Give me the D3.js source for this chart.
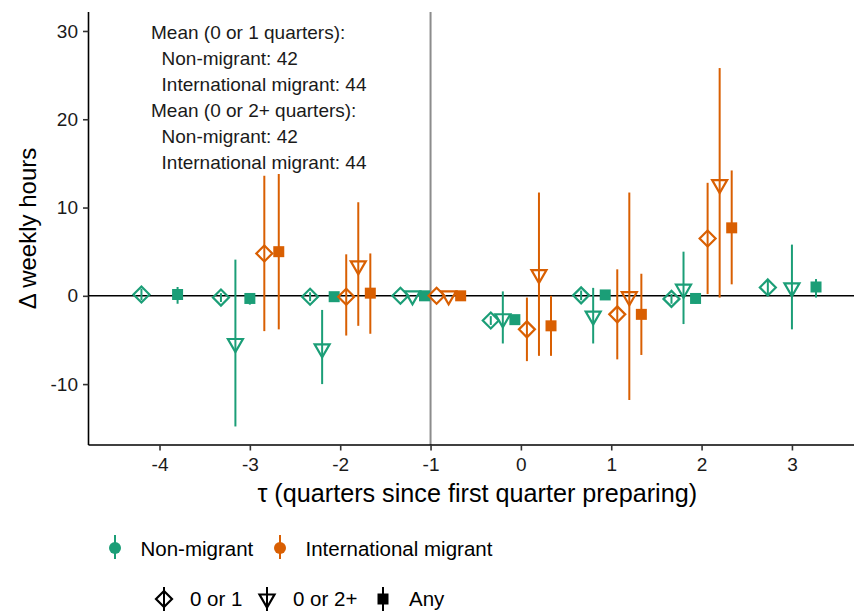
<!DOCTYPE html>
<html>
<head>
<meta charset="utf-8">
<script src="https://cdn.jsdelivr.net/npm/d3@7"></script>
<style>
  body { margin: 0; background: #fff; }
  svg { font-family: "Liberation Sans", Arial, sans-serif; display: block; }
</style>
</head>
<body>
<div id="chart"></div>
<script>
// quarters relative to first quarter preparing
const taus = [-4, -3, -2, -1, 0, 1, 2, 3];
const groups = ["Non-migrant", "International migrant"];
const types = ["0 or 1", "0 or 2+", "Any"];

// Non-migrant
const nm01Est = [0.15, -0.2, -0.1, 0, -2.8, 0.05, -0.35, 0.95];
const nm01Lo  = [-0.5, -0.7, -0.6, 0, -3.3, -0.5, -0.9, 0.1];
const nm01Hi  = [0.8, 0.3, 0.4, 0, -2.3, 0.6, 0.2, 1.8];
const nm02Est = [null, -5.4, -6.0, 0, -2.6, -2.3, 0.75, 0.9];
const nm02Lo  = [null, -14.8, -10.0, 0, -5.4, -5.4, -3.2, -3.8];
const nm02Hi  = [null, 4.1, -1.6, 0, 0.5, 0.9, 5.0, 5.8];
const nmAnyEst = [0.15, -0.3, -0.1, 0, -2.7, 0.1, -0.3, 1.0];
const nmAnyLo  = [-0.9, -1.0, -0.5, 0, -3.1, -0.3, -0.9, -0.2];
const nmAnyHi  = [1.0, 0.3, 0.3, 0, -2.3, 0.5, 0.3, 1.9];

// International migrant
const im01Est = [null, 4.8, -0.1, 0, -3.8, -2.1, 6.5, null];
const im01Lo  = [null, -4.0, -4.5, 0, -7.4, -7.2, 0.2, null];
const im01Hi  = [null, 13.6, 4.7, 0, -0.2, 3.0, 12.8, null];
const im02Est = [null, null, 3.4, 0, 2.4, -0.1, 12.6, null];
const im02Lo  = [null, null, -3.4, 0, -6.8, -11.8, -0.2, null];
const im02Hi  = [null, null, 10.6, 0, 11.7, 11.7, 25.8, null];
const imAnyEst = [null, 5.0, 0.3, 0, -3.4, -2.1, 7.7, null];
const imAnyLo  = [null, -3.8, -4.3, 0, -6.8, -6.7, 1.3, null];
const imAnyHi  = [null, 13.8, 4.8, 0, 0, 2.5, 14.2, null];

const yTicks = [-10, 0, 10, 20, 30];
const xTicks = [-4, -3, -2, -1, 0, 1, 2, 3];
const noteLines = [
  "Mean (0 or 1 quarters):",
  "  Non-migrant: 42",
  "  International migrant: 44",
  "Mean (0 or 2+ quarters):",
  "  Non-migrant: 42",
  "  International migrant: 44"
];

const colors = {"Non-migrant": "#1b9e77", "International migrant": "#d95f02"};

const series = [
  {group: groups[0], type: types[0], est: nm01Est, lo: nm01Lo, hi: nm01Hi},
  {group: groups[0], type: types[1], est: nm02Est, lo: nm02Lo, hi: nm02Hi},
  {group: groups[0], type: types[2], est: nmAnyEst, lo: nmAnyLo, hi: nmAnyHi},
  {group: groups[1], type: types[0], est: im01Est, lo: im01Lo, hi: im01Hi},
  {group: groups[1], type: types[1], est: im02Est, lo: im02Lo, hi: im02Hi},
  {group: groups[1], type: types[2], est: imAnyEst, lo: imAnyLo, hi: imAnyHi}
];

// flatten into rows
let rows = [];
series.forEach((s, si) => {
  taus.forEach((t, i) => {
    if (s.est[i] == null) return;
    rows.push({tau: t, key: si, group: s.group, type: s.type, est: s.est[i], lo: s.lo[i], hi: s.hi[i]});
  });
});

const width = 854, height = 612;
const m = {left: 88.5, right: 854, top: 12, bottom: 445};

const svg = d3.select("#chart").append("svg")
  .attr("width", width)
  .attr("height", height);

const x = d3.scaleLinear().domain([-4.786, 3.687]).range([m.left, m.right]);
const y = d3.scaleLinear().domain([-16.9, 32.15]).range([m.bottom, m.top]);

// dodge: spread the points present at each tau over 0.8
const byTau = d3.group(rows, d => d.tau);
byTau.forEach((arr, t) => {
  const band = d3.scaleBand().domain(arr.map(d => d.key)).range([t - 0.4, t + 0.4]);
  arr.forEach(d => { d.xd = band(d.key) + band.bandwidth() / 2; });
});

// reference lines
svg.append("line")
  .attr("x1", x(-1)).attr("x2", x(-1))
  .attr("y1", m.top).attr("y2", m.bottom)
  .attr("stroke", "#8c8c8c").attr("stroke-width", 2);
svg.append("line")
  .attr("x1", m.left).attr("x2", m.right)
  .attr("y1", y(0)).attr("y2", y(0))
  .attr("stroke", "#000").attr("stroke-width", 1.6);

// axes (hyphen minus like the original)
const fmt = d => String(d);
const yAxis = svg.append("g")
  .attr("transform", `translate(${m.left},0)`)
  .call(d3.axisLeft(y).tickValues(yTicks).tickFormat(fmt).tickSize(5.5).tickPadding(5));
const xAxis = svg.append("g")
  .attr("transform", `translate(0,${m.bottom})`)
  .call(d3.axisBottom(x).tickValues(xTicks).tickFormat(fmt).tickSize(5.5).tickPadding(7.5));
[xAxis, yAxis].forEach(a => {
  a.select(".domain").attr("stroke", "#000").attr("stroke-width", 1.6);
  a.selectAll(".tick line").attr("stroke", "#333").attr("stroke-width", 1.6);
  a.selectAll(".tick text").attr("fill", "#1a1a1a").style("font-size", "19px")
    .style("font-family", "'Liberation Sans', Arial, sans-serif");
});
yAxis.select(".domain").attr("d", `M0,${m.top}V${m.bottom}`);
xAxis.select(".domain").attr("d", `M${m.left},0H${m.right}`);

svg.append("text")
  .attr("transform", `translate(36,${(m.top + m.bottom) / 2}) rotate(-90)`)
  .attr("text-anchor", "middle")
  .style("font-size", "24px")
  .text("Δ weekly hours");
svg.append("text")
  .attr("x", (m.left + m.right) / 2 + 6).attr("y", 502)
  .attr("text-anchor", "middle")
  .style("font-size", "25.2px")
  .text("τ (quarters since first quarter preparing)");

// marker shapes
function shapePath(type) {
  if (type === "0 or 1") return "M0,-8L8,0L0,8L-8,0Z";
  if (type === "0 or 2+") return "M-7.5,-4.5L7.5,-4.5L0,8.5Z";
  return "M-5.5,-5.5H5.5V5.5H-5.5Z";
}

// error bars
svg.append("g").selectAll("line")
  .data(rows)
  .join("line")
  .attr("x1", d => x(d.xd)).attr("x2", d => x(d.xd))
  .attr("y1", d => y(d.lo)).attr("y2", d => y(d.hi))
  .attr("stroke", d => colors[d.group])
  .attr("stroke-width", 2);

// points
svg.append("g").selectAll("path")
  .data(rows)
  .join("path")
  .attr("transform", d => `translate(${x(d.xd)},${y(d.est)})`)
  .attr("d", d => shapePath(d.type))
  .attr("fill", d => d.type === "Any" ? colors[d.group] : "#fff")
  .attr("fill-opacity", d => d.type === "Any" ? 1 : 0)
  .attr("stroke", d => d.type === "Any" ? "none" : colors[d.group])
  .attr("stroke-width", 2.2);

// annotation
svg.append("g").selectAll("text")
  .data(noteLines)
  .join("text")
  .attr("x", 151)
  .attr("y", (d, i) => 39 + i * 26)
  .attr("xml:space", "preserve")
  .style("white-space", "pre")
  .style("font-size", "19px")
  .attr("fill", "#1a1a1a")
  .text(d => d);

// legend: colour
const leg1 = svg.append("g");
const leg1Pos = [115, 280];
groups.forEach((g, i) => {
  const cx = leg1Pos[i];
  leg1.append("line")
    .attr("x1", cx).attr("x2", cx).attr("y1", 535).attr("y2", 559)
    .attr("stroke", colors[g]).attr("stroke-width", 2);
  leg1.append("circle")
    .attr("cx", cx).attr("cy", 548).attr("r", 6)
    .attr("fill", colors[g]);
  leg1.append("text")
    .attr("x", cx + 25.5).attr("y", 555.5)
    .style("font-size", "20.5px")
    .text(g);
});

// legend: shape
const leg2 = svg.append("g");
const leg2Pos = [164, 267, 383];
types.forEach((t, i) => {
  const cx = leg2Pos[i];
  leg2.append("line")
    .attr("x1", cx).attr("x2", cx).attr("y1", 587).attr("y2", 611)
    .attr("stroke", "#000").attr("stroke-width", 2);
  leg2.append("path")
    .attr("transform", `translate(${cx},599)`)
    .attr("d", shapePath(t))
    .attr("fill", t === "Any" ? "#000" : "none")
    .attr("stroke", t === "Any" ? "none" : "#000")
    .attr("stroke-width", 2.2);
  leg2.append("text")
    .attr("x", cx + 26).attr("y", 605.5)
    .style("font-size", "20.5px")
    .text(t);
});
</script>
</body>
</html>
